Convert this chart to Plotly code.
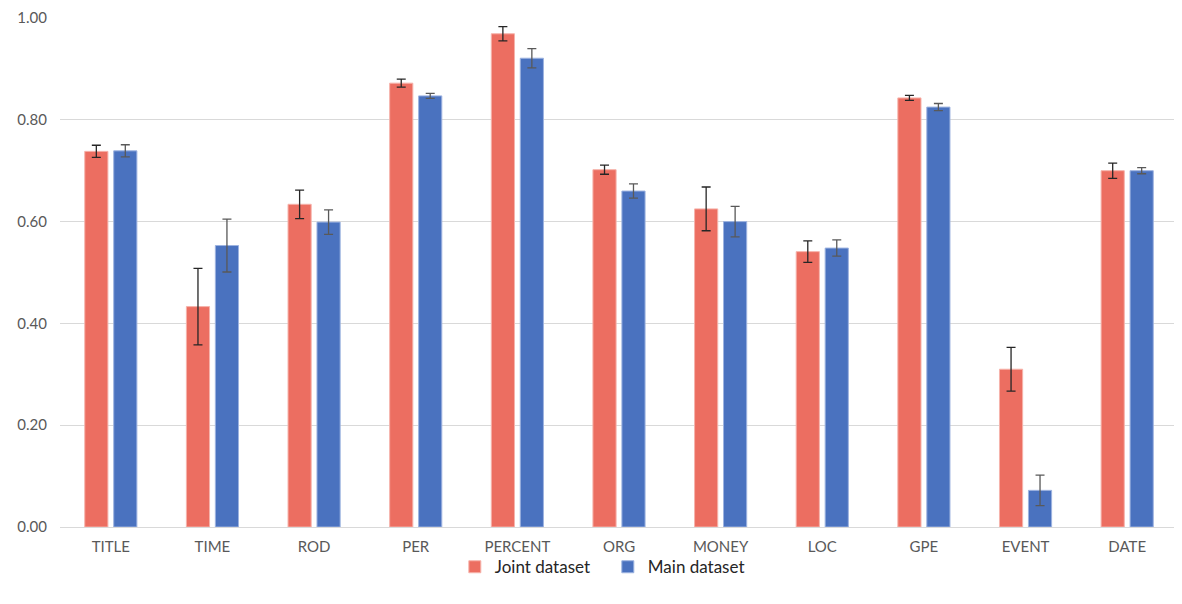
import plotly.graph_objects as go

categories = ["TITLE", "TIME", "ROD", "PER", "PERCENT", "ORG", "MONEY", "LOC", "GPE", "EVENT", "DATE"]
joint_values = [0.738, 0.433, 0.634, 0.872, 0.969, 0.702, 0.625, 0.541, 0.843, 0.310, 0.700]
joint_errors = [0.012, 0.075, 0.028, 0.008, 0.014, 0.009, 0.043, 0.021, 0.005, 0.043, 0.015]
main_values = [0.739, 0.553, 0.599, 0.847, 0.921, 0.660, 0.600, 0.548, 0.825, 0.072, 0.700]
main_errors = [0.012, 0.052, 0.024, 0.005, 0.019, 0.014, 0.030, 0.016, 0.007, 0.030, 0.006]
y_ticks = [0.0, 0.2, 0.4, 0.6, 0.8, 1.0]
y_tick_labels = ["0.00", "0.20", "0.40", "0.60", "0.80", "1.00"]

fig = go.Figure()
fig.add_trace(go.Bar(
    name="Joint dataset", x=categories, y=joint_values,
    marker=dict(color="#EC6E61", line=dict(color="#F6B3AB", width=1)),
    error_y=dict(type="data", array=joint_errors, color="#262626", thickness=1.3, width=4.5),
))
fig.add_trace(go.Bar(
    name="Main dataset", x=categories, y=main_values,
    marker=dict(color="#4A72BF", line=dict(color="#9DB3E0", width=1)),
    error_y=dict(type="data", array=main_errors, color="#595959", thickness=1.3, width=4.5),
))

fig.update_layout(
    width=1174, height=596,
    margin=dict(l=52, r=4, t=10, b=77, autoexpand=False),
    plot_bgcolor="white", paper_bgcolor="white",
    barmode="group", bargap=0.43, bargroupgap=0.2,
    font=dict(family="Lato, 'Open Sans', sans-serif", size=15, color="#595959"),
    showlegend=True,
    legend=dict(orientation="h", x=0.49, xanchor="center", y=-0.079, yanchor="middle",
                bgcolor="rgba(0,0,0,0)",
                font=dict(size=17, color="#262626"), itemwidth=30,
                entrywidth=108, entrywidthmode="pixels", traceorder="normal"),
    xaxis=dict(showgrid=False, showline=True, linecolor="#D9D9D9", linewidth=1,
               ticks="", ticklabelstandoff=6, automargin=False,
               tickfont=dict(size=15, color="#595959")),
    yaxis=dict(range=[0, 1.0], tickvals=y_ticks, ticktext=y_tick_labels,
               showgrid=True, gridcolor="#D9D9D9", gridwidth=1, zeroline=False,
               showline=False, ticks="", ticklabelstandoff=12, automargin=False,
               tickfont=dict(size=15, color="#595959")),
)

fig.write_html("out.html")
